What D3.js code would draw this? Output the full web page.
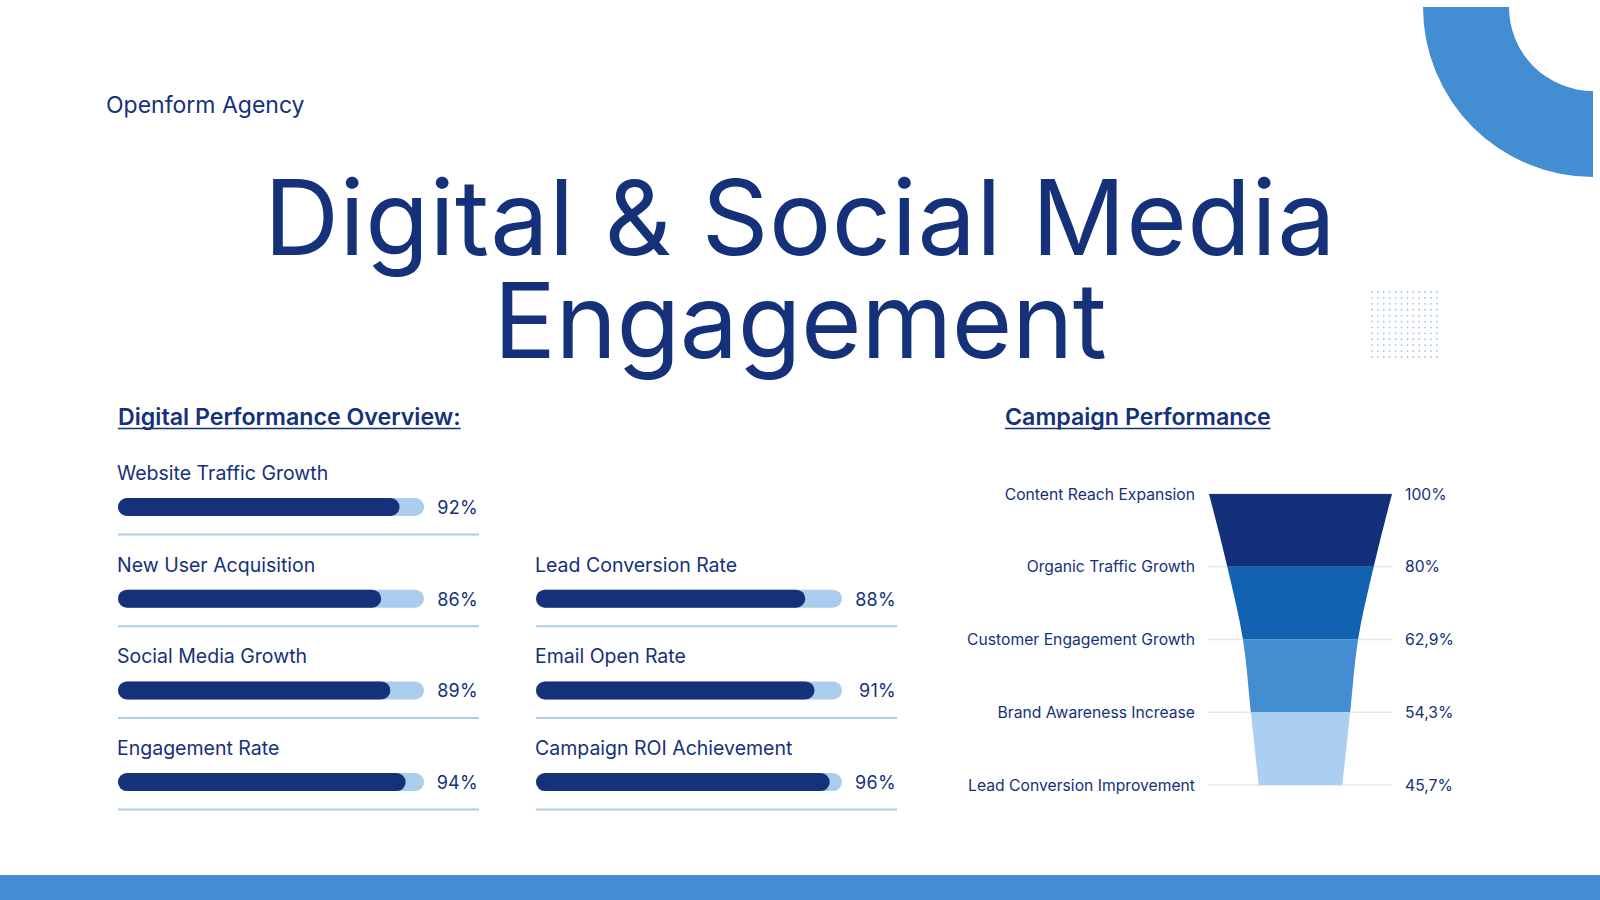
<!DOCTYPE html>
<html>
<head>
<meta charset="utf-8">
<title>Digital & Social Media Engagement</title>
<script src="https://cdn.jsdelivr.net/npm/d3@7"></script>
<style>
  html, body { margin: 0; padding: 0; background: #fff; }
  svg { display: block; }
  text { font-family: Inter, "Noto Sans", sans-serif; fill: #14317a; }
</style>
</head>
<body>
<svg id="chart" width="1600" height="900"></svg>
<script>
// progress bars, two columns
var leftLabels = ['Website Traffic Growth', 'New User Acquisition', 'Social Media Growth', 'Engagement Rate'];
var leftValues = [92, 86, 89, 94];
var rightLabels = ['Lead Conversion Rate', 'Email Open Rate', 'Campaign ROI Achievement'];
var rightValues = [88, 91, 96];

// funnel
var funnelStages = ['Content Reach Expansion', 'Organic Traffic Growth', 'Customer Engagement Growth',
                    'Brand Awareness Increase', 'Lead Conversion Improvement'];
var funnelValues = [100, 80, 62.9, 54.3, 45.7];
var funnelColors = ['#13307a', '#1162b0', '#438dd0', '#abcff0'];

var navy = '#14317a', lightBlue = '#aacdee', mid = '#438ed2';

var svg = d3.select('#chart');

// decoration: quarter ring top right, dot grid, bottom band
svg.append('path')
  .attr('transform', 'translate(1593,7)')
  .attr('d', d3.arc()({innerRadius: 84, outerRadius: 170, startAngle: Math.PI, endAngle: Math.PI * 1.5}))
  .attr('fill', mid);

var dotIdx = d3.range(12);
var dx = d3.scaleLinear().domain([0, 11]).range([1372, 1437]);
var dy = d3.scaleLinear().domain([0, 11]).range([292, 357]);
svg.append('g').selectAll('circle')
  .data(d3.cross(dotIdx, dotIdx)).enter()
  .append('circle')
    .attr('cx', function(d){ return dx(d[0]); })
    .attr('cy', function(d){ return dy(d[1]); })
    .attr('r', 0.9)
    .attr('fill', '#a3c4e6');

svg.append('rect').attr('x', 0).attr('y', 875).attr('width', 1600).attr('height', 25).attr('fill', mid);

// titles
svg.append('text').attr('x', 106).attr('y', 113)
  .style('font-size', '23px').text('Openform Agency');

svg.append('text').attr('x', 800).attr('y', 255).attr('text-anchor', 'middle')
  .style('font-size', '104px').style('letter-spacing', '0.5px').text('Digital & Social Media');
svg.append('text').attr('x', 800).attr('y', 358).attr('text-anchor', 'middle')
  .style('font-size', '104px').style('letter-spacing', '-0.5px').text('Engagement');

function heading(x, y, txt){
  var t = svg.append('text').attr('x', x).attr('y', y)
    .style('font-size', '23.2px').style('font-weight', 600).text(txt);
  var w = t.node().getComputedTextLength();
  svg.append('line').attr('x1', x).attr('x2', x + w).attr('y1', y + 3.5).attr('y2', y + 3.5)
    .attr('stroke', navy).attr('stroke-width', 1.6);
}
heading(118, 425, 'Digital Performance Overview:');
heading(1005, 425, 'Campaign Performance');

// progress bars
var barX = d3.scaleLinear().domain([0, 100]).range([0, 306]);
var rowY = d3.scaleLinear().domain([0, 1]).range([480, 571.7]);

function barColumn(x0, valueRight, labels, values, startRow){
  var rows = labels.map(function(l, i){ return {label: l, value: values[i], row: i + startRow}; });
  var g = svg.append('g').selectAll('g').data(rows).enter().append('g')
    .attr('transform', function(d){ return 'translate(' + x0 + ',' + rowY(d.row) + ')'; });

  g.append('text').attr('x', -1).attr('y', 0).style('font-size', '19.5px')
    .text(function(d){ return d.label; });
  g.append('rect').attr('x', 0).attr('y', 18).attr('height', 18).attr('rx', 9)
    .attr('width', barX(100)).attr('fill', lightBlue);
  g.append('rect').attr('x', 0).attr('y', 18).attr('height', 18).attr('rx', 9)
    .attr('width', function(d){ return barX(d.value); }).attr('fill', navy);
  g.append('text').attr('x', valueRight - x0).attr('y', 34).attr('text-anchor', 'end')
    .style('font-size', '18px').style('letter-spacing', '0.3px')
    .text(function(d){ return d.value + '%'; });
  g.append('line').attr('x1', 0).attr('x2', valueRight - x0 + 1).attr('y1', 54.5).attr('y2', 54.5)
    .attr('stroke', '#abcdeb').attr('stroke-width', 2);
}
barColumn(118, 478, leftLabels, leftValues, 0);
barColumn(536, 896, rightLabels, rightValues, 1);

// funnel
var cx = 1300.5;
var fy = d3.scalePoint().domain(funnelStages).range([494, 785]);
var fw = d3.scaleLinear().domain([0, 100]).range([0, 183]);
var fmt = d3.formatLocale({decimal: ',', thousands: '.', grouping: [3], currency: ['', '']}).format('~f');

var fg = svg.append('g');
fg.selectAll('line.grid').data(funnelStages).enter().append('line')
  .attr('class', 'grid')
  .attr('x1', 1208).attr('x2', 1392)
  .attr('y1', function(d){ return fy(d); }).attr('y2', function(d){ return fy(d); })
  .attr('stroke', '#e8e8e8').attr('stroke-width', 1.5);

var pts = funnelStages.map(function(s, i){ return {stage: s, value: funnelValues[i]}; });
var area = d3.area()
  .y(function(d){ return fy(d.stage); })
  .x0(function(d){ return cx - fw(d.value) / 2; })
  .x1(function(d){ return cx + fw(d.value) / 2; })
  .curve(d3.curveMonotoneY);

var defs = svg.append('defs');
d3.range(funnelStages.length - 1).forEach(function(i){
  var y0 = fy(funnelStages[i]), y1 = fy(funnelStages[i + 1]);
  defs.append('clipPath').attr('id', 'seg' + i)
    .append('rect').attr('x', 1100).attr('width', 400).attr('y', y0).attr('height', y1 - y0);
  fg.append('path').attr('d', area(pts)).attr('fill', funnelColors[i])
    .attr('clip-path', 'url(#seg' + i + ')');
});

fg.selectAll('text.stage').data(pts).enter().append('text')
  .attr('class', 'stage')
  .attr('x', 1195).attr('y', function(d){ return fy(d.stage) + 5.5; })
  .attr('text-anchor', 'end').style('font-size', '15.7px')
  .text(function(d){ return d.stage; });
fg.selectAll('text.val').data(pts).enter().append('text')
  .attr('class', 'val')
  .attr('x', 1405).attr('y', function(d){ return fy(d.stage) + 5.5; })
  .style('font-size', '15.7px')
  .text(function(d){ return fmt(d.value) + '%'; });
</script>
</body>
</html>
